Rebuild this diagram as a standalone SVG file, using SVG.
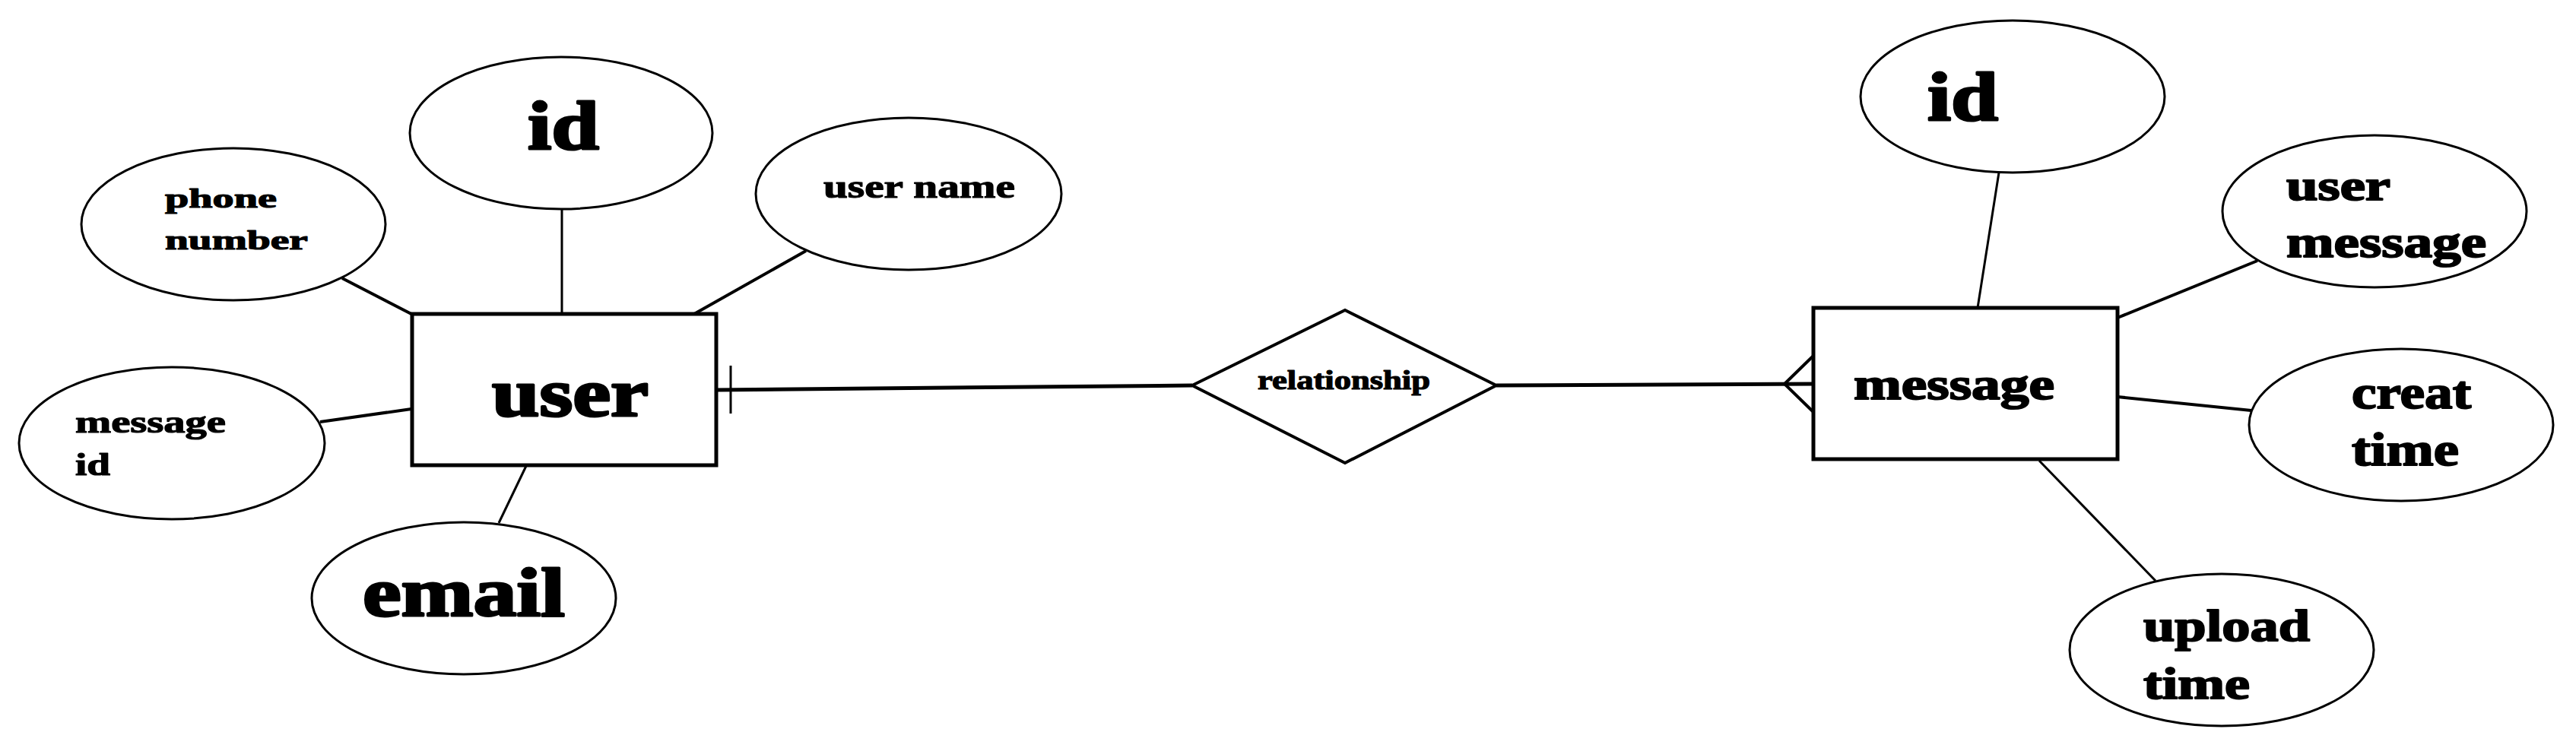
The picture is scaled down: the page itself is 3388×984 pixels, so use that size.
<svg xmlns="http://www.w3.org/2000/svg" width="3388" height="984" viewBox="0 0 3388 984">
<style>
.attr{fill:#fff;stroke:#000;stroke-width:3}
.ent{fill:#fff;stroke:#000;stroke-width:5}
.rel{fill:#fff;stroke:#000;stroke-width:4;stroke-linejoin:miter}
.t{font-family:"Liberation Serif","Times New Roman",serif;font-weight:bold;fill:#000;stroke:#000;stroke-linejoin:round}
.s{stroke-width:1.2}
.m{stroke-width:2}
.l{stroke-width:3}
.c{stroke:#000;fill:none}
</style>
<rect width="3388" height="984" fill="#fff"/>
<g id="connectors">
<line class="c" x1="450" y1="366" x2="541" y2="413" stroke-width="4"/>
<line class="c" x1="739" y1="275" x2="739" y2="413" stroke-width="3"/>
<line class="c" x1="1060" y1="330" x2="913" y2="413" stroke-width="4"/>
<line class="c" x1="421" y1="555" x2="541" y2="538" stroke-width="4"/>
<line class="c" x1="692" y1="613" x2="656" y2="688" stroke-width="3"/>
<line class="c" x1="941" y1="513" x2="1568" y2="507" stroke-width="5"/>
<line class="c" x1="961" y1="481" x2="961" y2="544" stroke-width="3"/>
<line class="c" x1="1968" y1="507" x2="2385" y2="505" stroke-width="5"/>
<polyline class="c" points="2385,468 2347,505 2385,542" stroke-width="4"/>
<line class="c" x1="2629" y1="227" x2="2601" y2="405" stroke-width="3"/>
<line class="c" x1="2969" y1="343" x2="2785" y2="418" stroke-width="4"/>
<line class="c" x1="2785" y1="522" x2="2961" y2="540" stroke-width="4"/>
<line class="c" x1="2682" y1="606" x2="2835" y2="764" stroke-width="3"/>
</g>
<g id="user">
<rect class="ent" x="542" y="413" width="400" height="199"/>
<text class="t l" x="647" y="547" font-size="88" textLength="206" lengthAdjust="spacingAndGlyphs">user</text>
</g>
<g id="relationship">
<polygon class="rel" points="1568,507 1769,408 1968,507 1769,609"/>
<text class="t s" x="1654" y="512" font-size="36" textLength="227" lengthAdjust="spacingAndGlyphs">relationship</text>
</g>
<g id="message">
<rect class="ent" x="2385" y="405" width="400" height="199"/>
<text class="t m" x="2438" y="525" font-size="60" textLength="264" lengthAdjust="spacingAndGlyphs">message</text>
</g>
<g id="attr-phone-number">
<ellipse class="attr" cx="307" cy="295" rx="200" ry="100"/>
<text class="t s" x="217" y="273" font-size="36" textLength="147" lengthAdjust="spacingAndGlyphs">phone</text>
<text class="t s" x="217" y="328" font-size="36" textLength="188" lengthAdjust="spacingAndGlyphs">number</text>
</g>
<g id="attr-user-id">
<ellipse class="attr" cx="738" cy="175" rx="199" ry="100"/>
<text class="t l" x="694" y="196" font-size="92" textLength="94" lengthAdjust="spacingAndGlyphs">id</text>
</g>
<g id="attr-user-name">
<ellipse class="attr" cx="1195" cy="255" rx="201" ry="100"/>
<text class="t s" x="1083" y="260" font-size="44" textLength="252" lengthAdjust="spacingAndGlyphs">user name</text>
</g>
<g id="attr-message-id">
<ellipse class="attr" cx="226" cy="583" rx="201" ry="100"/>
<text class="t s" x="99" y="569" font-size="42" textLength="198" lengthAdjust="spacingAndGlyphs">message</text>
<text class="t s" x="99" y="625" font-size="42" textLength="46" lengthAdjust="spacingAndGlyphs">id</text>
</g>
<g id="attr-email">
<ellipse class="attr" cx="610" cy="787" rx="200" ry="100"/>
<text class="t l" x="477" y="810" font-size="90" textLength="266" lengthAdjust="spacingAndGlyphs">email</text>
</g>
<g id="attr-msg-id">
<ellipse class="attr" cx="2647" cy="127" rx="200" ry="100"/>
<text class="t l" x="2535" y="158" font-size="92" textLength="93" lengthAdjust="spacingAndGlyphs">id</text>
</g>
<g id="attr-user-message">
<ellipse class="attr" cx="3123" cy="278" rx="200" ry="100"/>
<text class="t m" x="3007" y="263" font-size="58" textLength="137" lengthAdjust="spacingAndGlyphs">user</text>
<text class="t m" x="3007" y="338" font-size="60" textLength="263" lengthAdjust="spacingAndGlyphs">message</text>
</g>
<g id="attr-creat-time">
<ellipse class="attr" cx="3158" cy="559" rx="200" ry="100"/>
<text class="t m" x="3093" y="537" font-size="62" textLength="157" lengthAdjust="spacingAndGlyphs">creat</text>
<text class="t m" x="3093" y="612" font-size="62" textLength="141" lengthAdjust="spacingAndGlyphs">time</text>
</g>
<g id="attr-upload-time">
<ellipse class="attr" cx="2922" cy="855" rx="200" ry="100"/>
<text class="t m" x="2819" y="843" font-size="60" textLength="219" lengthAdjust="spacingAndGlyphs">upload</text>
<text class="t m" x="2819" y="919" font-size="60" textLength="140" lengthAdjust="spacingAndGlyphs">time</text>
</g>
</svg>
